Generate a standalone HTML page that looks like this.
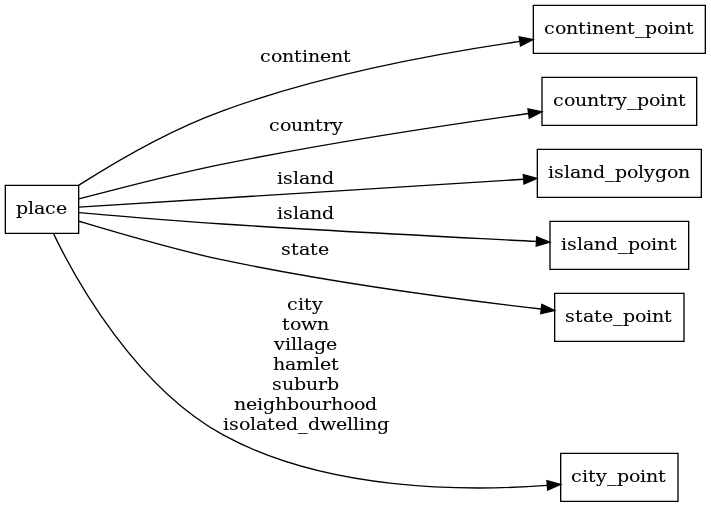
<!DOCTYPE html>
<html lang="en">
<head>
<meta charset="utf-8">
<title>place</title>
<style>
html,body{margin:0;padding:0;background:#fff;}
body{width:711px;height:507px;overflow:hidden;}
svg{display:block;will-change:transform;filter:grayscale(1);}
text{font-family:"DejaVu Serif","Liberation Serif",serif;font-size:17.4px;fill:#000;stroke:#000;stroke-width:0.1px;text-anchor:start;}
.n{fill:none;stroke:#000;stroke-width:1;}
.e{fill:none;stroke:#000;stroke-width:1;}
.a{fill:#000;stroke:#000;stroke-width:1;}
</style>
</head>
<body>
<svg width="711" height="507" viewBox="0 0 711 507">
<rect x="0" y="0" width="711" height="507" fill="#fff"/>
<g transform="scale(1.3333333) translate(4 376)">
<polygon class="n" points="55,-237 0,-237 0,-201 55,-201 55,-237"/>
<polygon class="n" points="525,-372 396,-372 396,-336 525,-336 525,-372"/>
<polygon class="n" points="518.5,-318 402.5,-318 402.5,-282 518.5,-282 518.5,-318"/>
<polygon class="n" points="522,-264 399,-264 399,-228 522,-228 522,-264"/>
<polygon class="n" points="512.5,-210 408.5,-210 408.5,-174 512.5,-174 512.5,-210"/>
<polygon class="n" points="509,-156 412,-156 412,-120 509,-120 509,-156"/>
<polygon class="n" points="504.5,-36 416.5,-36 416.5,0 504.5,0 504.5,-36"/>
<path class="e" d="M55.17,-237.13C80.67,-253.48 123.75,-278.65 163,-292.92 236.85,-319.79 325.32,-336.08 385.86,-344.91"/>
<polygon class="a" points="385.41,-348.38 395.8,-346.31 386.39,-341.45 385.41,-348.38"/>
<path class="e" d="M55.13,-226.77C81.98,-233.86 125.33,-245.35 163,-252.92 240.13,-268.41 332.44,-282.51 392.23,-290.85"/>
<polygon class="a" points="392,-294.35 402.38,-292.25 392.96,-287.41 392,-294.35"/>
<path class="e" d="M55.14,-220.67C120.63,-224.77 291.28,-235.46 388.67,-241.56"/>
<polygon class="a" points="388.53,-245.06 398.73,-242.19 388.96,-238.07 388.53,-245.06"/>
<path class="e" d="M55.02,-216.61C82.14,-214.26 125.48,-210.5 163,-208 243.89,-202.62 338.3,-198.02 398.26,-194.94"/>
<polygon class="a" points="398.5,-198.43 408.32,-194.46 398.16,-191.44 398.5,-198.43"/>
<path class="e" d="M55.04,-210.07C81.7,-202.1 124.9,-189.01 163,-181.04 244.53,-163.99 341.8,-151.15 401.87,-144.24"/>
<polygon class="a" points="402.37,-147.70 411.92,-143.10 401.59,-140.75 402.37,-147.70"/>
<path class="e" d="M36.13,-200.79C54.07,-163.37 98.54,-85.47 163,-50 239.59,-7.85 344.14,-7.38 406.44,-11.95"/>
<polygon class="a" points="406.19,-15.44 416.44,-12.75 406.75,-8.46 406.19,-15.44"/>
</g>
<g transform="scale(1.0919540 1)">
<text x="14.6526 25.6421 31.1368 41.2105 51.2842" y="214">place</text>
<text x="498.1895 508.2632 518.3368 529.3263 536.6526 542.1474 553.1368 563.2105 574.2 581.5263 590.6842 601.6737 611.7474 617.2421 628.2316" y="34">continent_point</text>
<text x="506.4316 516.5053 526.5789 537.5684 548.5579 555.8842 564.1263 574.2 583.3579 594.3474 604.4211 609.9158 620.9053" y="106">country_point</text>
<text x="501.8526 507.3474 516.5053 522 532.0737 543.0632 554.0526 563.2105 574.2 584.2737 589.7684 599.8421 610.8316 620.9053" y="178">island_polygon</text>
<text x="513.7579 519.2526 528.4105 533.9053 543.9789 554.9684 565.9579 575.1158 586.1053 596.1789 601.6737 612.6632" y="250">island_point</text>
<text x="517.4211 526.5789 533.9053 543.9789 551.3053 561.3789 570.5368 581.5263 591.6 597.0947 608.0842" y="322">state_point</text>
<text x="522.9158 532.9895 538.4842 545.8105 555.8842 565.0421 576.0316 586.1053 591.6 602.5895" y="482">city_point</text>
<text x="238.1053 248.1789 258.2526 269.2421 276.5684 282.0632 293.0526 303.1263 314.1158" y="62">continent</text>
<text x="246.3474 256.4211 266.4947 277.4842 288.4737 295.8 304.0421" y="131">country</text>
<text x="253.6737 259.1684 268.3263 273.8211 283.8947 294.8842" y="184">island</text>
<text x="253.6737 259.1684 268.3263 273.8211 283.8947 294.8842" y="219">island</text>
<text x="257.3368 266.4947 273.8211 283.8947 291.2211" y="255">state</text>
<text x="262.8316 272.9053 278.4 285.7263" y="310">city</text>
<text x="258.2526 265.5789 275.6526 290.3053" y="330">town</text>
<text x="250.9263 261 266.4947 271.9895 277.4842 287.5579 298.5474" y="350">village</text>
<text x="250.0105 261 271.0737 287.5579 293.0526 303.1263" y="370">hamlet</text>
<text x="249.0947 258.2526 269.2421 280.2316 291.2211 299.4632" y="390">suburb</text>
<text x="214.2947 225.2842 235.3579 240.8526 251.8421 262.8316 273.8211 283.8947 294.8842 303.1263 314.1158 324.1895 334.2632" y="410">neighbourhood</text>
<text x="204.2211 209.7158 218.8737 228.9474 234.4421 244.5158 251.8421 261.9158 272.9053 282.0632 293.0526 307.7053 317.7789 323.2737 328.7684 334.2632 345.2526" y="430">isolated_dwelling</text>
</g>
</svg>
</body>
</html>
